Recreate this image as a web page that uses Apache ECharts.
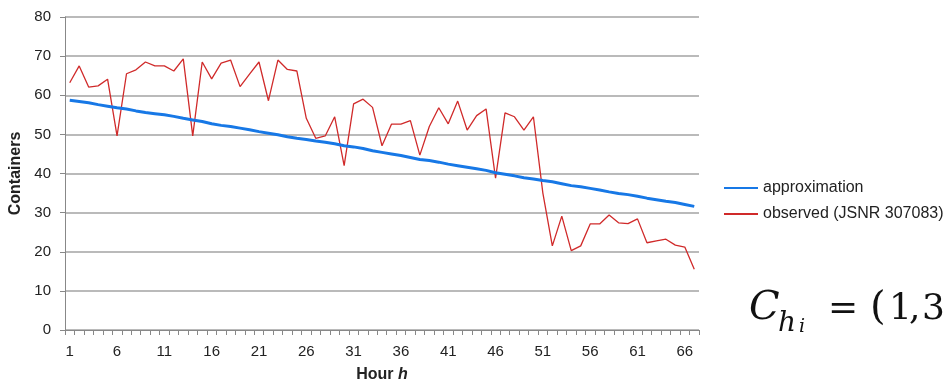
<!DOCTYPE html>
<html>
<head>
<meta charset="utf-8">
<script src="https://cdn.jsdelivr.net/npm/echarts@6/dist/echarts.min.js"></script>
<style>
html,body{margin:0;padding:0;background:#fff;}
#chart{width:949px;height:381px;}
</style>
</head>
<body>
<div id="chart"></div>
<script>
const hours = [];
for (let h = 1; h <= 67; h++) hours.push(String(h));

const approximation = [
  58.7, 58.4, 58.1, 57.6, 57.2, 56.8, 56.5, 56.0, 55.6, 55.3,
  55.0, 54.6, 54.1, 53.7, 53.3, 52.7, 52.3, 52.0, 51.6, 51.2,
  50.7, 50.3, 49.9, 49.4, 49.0, 48.7, 48.3, 48.0, 47.6, 47.1,
  46.8, 46.4, 45.8, 45.4, 45.0, 44.6, 44.1, 43.6, 43.3, 42.9,
  42.4, 42.0, 41.6, 41.2, 40.8, 40.2, 39.8, 39.4, 38.9, 38.6,
  38.2, 37.9, 37.4, 36.9, 36.6, 36.2, 35.8, 35.3, 34.9, 34.6,
  34.2, 33.7, 33.3, 32.9, 32.6, 32.1, 31.6
];

const observed = [
  63.2, 67.5, 62.1, 62.4, 64.1, 49.6, 65.5, 66.5, 68.5, 67.5,
  67.5, 66.2, 69.3, 49.6, 68.5, 64.2, 68.2, 69.0, 62.2, 65.4,
  68.5, 58.6, 69.0, 66.6, 66.2, 54.1, 49.0, 49.6, 54.5, 42.0,
  57.8, 59.0, 56.9, 47.1, 52.6, 52.6, 53.5, 44.7, 52.0, 56.8,
  52.7, 58.5, 51.1, 54.8, 56.5, 38.8, 55.5, 54.5, 51.1, 54.5,
  35.0, 21.5, 29.1, 20.3, 21.5, 27.1, 27.1, 29.4, 27.4, 27.2,
  28.4, 22.3, 22.8, 23.2, 21.7, 21.2, 15.5
];

const yTicks = { min: 0, max: 80, interval: 10 };

const chart = echarts.init(document.getElementById('chart'), null, { renderer: 'canvas' });
const txt = '#222';
const sans = 'Liberation Sans, Arial, sans-serif';
const serif = '"DejaVu Serif", serif';
chart.setOption({
  animation: false,
  backgroundColor: '#fff',
  textStyle: { fontFamily: sans },
  grid: { left: 65, right: 250, top: 17, bottom: 51, containLabel: false, outerBoundsMode: 'none' },
  legend: {
    orient: 'vertical',
    left: 718,
    top: 175,
    itemWidth: 34,
    itemHeight: 14,
    itemGap: 10,
    itemStyle: { opacity: 0 },
    textStyle: { fontSize: 16, color: txt, fontFamily: sans },
    data: ['approximation', 'observed (JSNR 307083)']
  },
  xAxis: {
    type: 'category',
    data: hours,
    boundaryGap: true,
    name: '{a|Hour }{b|h}',
    nameLocation: 'middle',
    nameGap: 37,
    nameTextStyle: {
      rich: {
        a: { fontSize: 16, fontWeight: 'bold', color: txt, fontFamily: sans },
        b: { fontSize: 16, fontWeight: 'bold', fontStyle: 'italic', color: txt, fontFamily: sans }
      }
    },
    axisLine: { lineStyle: { color: '#888', width: 1 } },
    axisTick: { show: true, interval: 0, length: 5, lineStyle: { color: '#888' } },
    axisLabel: { interval: 4, fontSize: 15, color: txt, margin: 14 },
    splitLine: { show: false }
  },
  yAxis: {
    type: 'value',
    min: yTicks.min,
    max: yTicks.max,
    interval: yTicks.interval,
    name: 'Containers',
    nameLocation: 'middle',
    nameGap: 32,
    nameTextStyle: { fontSize: 16, fontWeight: 'bold', color: txt },
    axisLine: { show: true, lineStyle: { color: '#888', width: 1 } },
    axisTick: { show: true, length: 5, lineStyle: { color: '#888' } },
    axisLabel: { fontSize: 15, color: txt, margin: 14 },
    splitLine: { lineStyle: { color: '#a3a3a3', width: 1.5 } }
  },
  series: [
    {
      name: 'approximation',
      type: 'line',
      data: approximation,
      symbol: 'none',
      lineStyle: { color: '#1778e6', width: 3 },
      itemStyle: { color: '#1778e6' },
      z: 3
    },
    {
      name: 'observed (JSNR 307083)',
      type: 'line',
      data: observed,
      symbol: 'none',
      lineStyle: { color: '#d02a2a', width: 1.3 },
      itemStyle: { color: '#d02a2a' },
      z: 2
    }
  ],
  graphic: [
    { type: 'text', left: 749, top: 289, style: { text: 'C', font: 'italic 40px ' + serif, fill: '#111' } },
    { type: 'text', left: 778, top: 310, style: { text: 'h', font: 'italic 28px ' + serif, fill: '#111' } },
    { type: 'text', left: 799, top: 318, style: { text: 'i', font: 'italic 19px ' + serif, fill: '#111' } },
    { type: 'text', left: 828, top: 292, style: { text: '=', font: '36px ' + serif, fill: '#111' } },
    { type: 'text', left: 870, top: 289, style: { text: '(', font: '40px ' + serif, fill: '#111' } },
    { type: 'text', left: 889, top: 292, style: { text: '1', font: '36px ' + serif, fill: '#111' } },
    { type: 'text', left: 909, top: 292, style: { text: ',', font: '36px ' + serif, fill: '#111' } },
    { type: 'text', left: 922, top: 292, style: { text: '3', font: '36px ' + serif, fill: '#111' } }
  ]
});
</script>
</body>
</html>
